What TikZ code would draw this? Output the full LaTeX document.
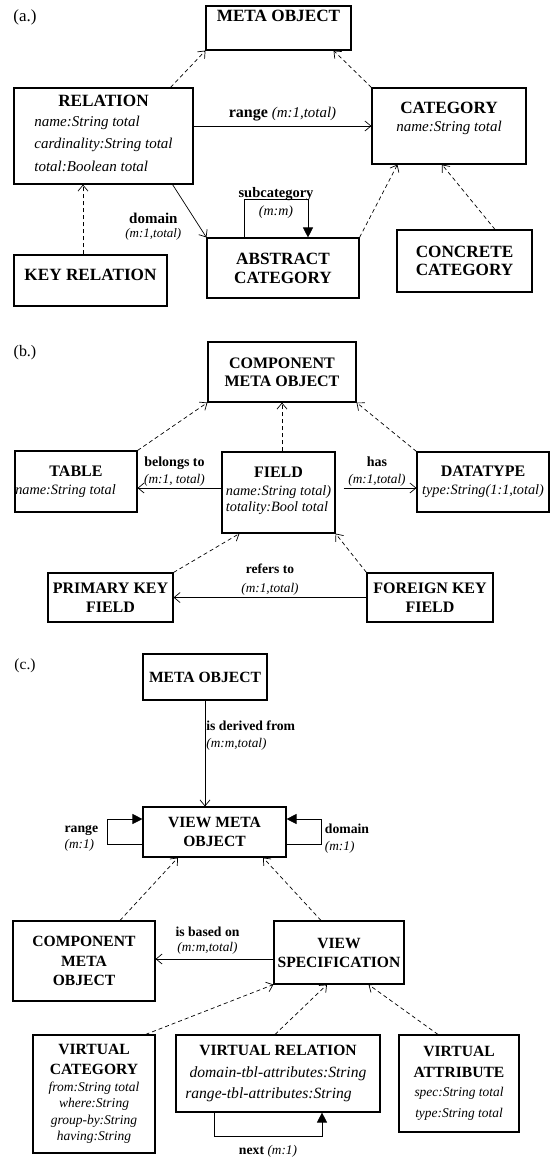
\documentclass[tikz,border=0pt]{standalone}
\usepackage{fontspec}
\setmainfont{Liberation Serif}
\usetikzlibrary{arrows.meta,positioning}

\newcommand{\attr}[2][14.3]{{\fontsize{#1}{17}\selectfont\mdseries\itshape #2}}
\newcommand{\card}[2][13.3]{{\fontsize{#1}{16}\selectfont\mdseries\itshape #2}}

\tikzset{
  box/.style={draw, line width=1.1pt, inner sep=0pt, align=center,
    font=\fontsize{#1}{19}\selectfont\bfseries},
  box/.default=15.6,
  lbl/.style={inner sep=1pt, align=center, font=\fontsize{#1}{17}\selectfont\bfseries},
  lbl/.default=13.7,
  sec/.style={inner sep=0pt, font=\fontsize{#1}{18}\selectfont},
  isa/.style={line width=.7pt, dash pattern=on 4pt off 3pt,
    -{Straight Barb[length=6pt,width=10pt]}},
  assoc/.style={line width=.7pt, -{Straight Barb[length=6pt,width=10pt]}},
  self/.style={line width=.7pt, -{Triangle[length=10pt,width=10pt]}}
}

\begin{document}
\begin{tikzpicture}[x=1pt, y=-1pt]
  \useasboundingbox (0,0) rectangle (558,1157);

  % (a.)
  \node[sec=17] (secA) at (25,17) {(a.)};
  \node[box=17.2, minimum width=145, minimum height=44, text height=11.5pt, text depth=24.3pt] (metaA) at (278.5,28) {META OBJECT};
  \node[box=17.2, minimum width=179, minimum height=96] (rel) at (103.5,136)
    {RELATION\\[1pt]
     \begin{tabular}[t]{@{}l@{}}\attr[15]{name:String total}\\[3.5pt]
       \attr[15]{cardinality:String total}\\[3.5pt]
       \attr[15]{total:Boolean total}\end{tabular}};
  \node[box=17.2, minimum width=154, minimum height=76] (cat) at (449,126)
    {CATEGORY\\[-1pt]\attr[15]{name:String total}\hspace*{17pt}\\[-0.6pt]\mbox{}};
  \node[box=17.2, minimum width=153, minimum height=51, text height=11.5pt, text depth=11.3pt] (keyrel) at (90.5,280.5) {KEY RELATION};
  \node[box=17.2, minimum width=152, minimum height=60] (abscat) at (283,268) {ABSTRACT\\CATEGORY};
  \node[box=17.2, minimum width=135, minimum height=62] (concat) at (464.5,261) {CONCRETE\\[-1pt]CATEGORY};

  \draw[isa] ([xshift=-23pt]rel.north east) -- (metaA.south west);
  \draw[isa] (cat.north west) -- ([xshift=-18pt]metaA.south east);
  \draw[assoc] ([yshift=10pt]rel.east) -- node[lbl=16, above=4pt] (rangeA) {range \card[14.9]{(m:1,total)}} (cat.west);
  \draw[assoc] ([xshift=-21pt]rel.south east) -- node[lbl=15, pos=.8, left=17pt] (domA) {domain\\[-3pt]\card[13]{(m:1,total)}} (abscat.north west);
  \draw[isa] ([xshift=-7.5pt]keyrel.north) -- ([xshift=-7.5pt]keyrel.north |- rel.south);
  \draw[self] ([xshift=-39pt]abscat.north) -- ++(0,-38)
    -| node[lbl=14.5, pos=.25, anchor=base, yshift=2pt] (subcat) {subcategory}
       node[pos=.25, below=6pt, inner sep=0pt] (subcard) {\card[14]{(m:m)}}
    ([xshift=25pt]abscat.north);
  \draw[isa] (abscat.north east) -- ([xshift=26pt]cat.south west);
  \draw[isa] ([xshift=30.5pt]concat.north) -- ([xshift=-7pt]cat.south);

  % (b.)
  \node[sec=16] (secB) at (25,353) {(b.)};
  \node[box=16, minimum width=148, minimum height=60] (comp) at (282,372) {COMPONENT\\[-1pt]META OBJECT};
  \node[box=16, minimum width=122, minimum height=61] (table) at (76,481.5)
    {TABLE\\[-1pt]\attr{name:String total}\hspace*{21pt}};
  \node[box=16, minimum width=113, minimum height=81] (field) at (278.5,492.5)
    {FIELD\\[-1pt]\begin{tabular}[t]{@{}l@{}}\attr{name:String total)}\\[-3pt]
       \attr{totality:Bool total}\end{tabular}};
  \node[box=16, minimum width=132, minimum height=60] (dtype) at (483,482)
    {DATATYPE\\[-1pt]\attr{type:String(1:1,total)}};
  \node[box=16, minimum width=125, minimum height=49] (pkey) at (110.5,597.5) {PRIMARY KEY\\FIELD};
  \node[box=16, minimum width=126, minimum height=49] (fkey) at (430,597.5) {FOREIGN KEY\\FIELD};

  \draw[isa] (table.north east) -- (comp.south west);
  \draw[isa] (field.north -| comp.south) -- (comp.south);
  \draw[isa] (dtype.north west) -- (comp.south east);
  \draw[assoc] ([yshift=4.5pt]field.west) -- node[lbl=14, above=0pt, xshift=-5pt] (belongs) {belongs to\\\card{(m:1, total)}} ([yshift=4.5pt]field.west -| table.east);
  \draw[assoc] ([xshift=8pt,yshift=4.5pt]field.east) -- node[lbl=14, above=0pt, xshift=-3pt] (has) {has\\\card{(m:1,total)}} ([yshift=4.5pt]field.east -| dtype.west);
  \draw[isa] (pkey.north east) -- ([xshift=18pt]field.south west);
  \draw[isa] (fkey.north west) -- (field.south east);
  \draw[assoc] (fkey.west) -- node[lbl=13.5, above=1pt] (refers) {refers to\\[1.5pt]\card{(m:1,total)}} (pkey.east);

  % (c.)
  \node[sec=15.5] (secC) at (25,666) {(c.)};
  \node[box, minimum width=124, minimum height=46] (metaC) at (205,677) {META OBJECT};
  \node[box, minimum width=143, minimum height=50] (vmo) at (214.5,832) {VIEW META\\OBJECT};
  \node[box, minimum width=142, minimum height=80] (compC) at (84,961) {COMPONENT\\[1pt]META\\OBJECT};
  \node[box, minimum width=130, minimum height=63] (vspec) at (339,952.5) {VIEW\\SPECIFICATION};
  \node[box, minimum width=122, minimum height=118] (vcat) at (94,1094)
    {VIRTUAL\\[1pt]CATEGORY\\[-1.7pt]\attr[13.5]{from:String total}\\[-3pt]
     \attr[13.5]{where:String}\\[-2pt]\attr[13.5]{group-by:String}\\[-3pt]
     \attr[13.5]{having:String}};
  \node[box, minimum width=204, minimum height=77] (vrel) at (278,1073.5)
    {VIRTUAL RELATION\\[2.3pt]\attr[15.6]{domain-tbl-attributes:String}\hspace*{19pt}\\[2pt]
     \attr[15.6]{range-tbl-attributes:String}\hspace*{19pt}};
  \node[box, minimum width=120, minimum height=97] (vattr) at (459,1083.5)
    {VIRTUAL\\[2pt]ATTRIBUTE\\\attr[13.4]{spec:String total}\\[2pt]\attr[13.4]{type:String total}};

  \draw[assoc] (metaC.south) -- node[lbl, pos=.33, right=0pt, align=left] (derived) {is derived from\\\card{(m:m,total)}} (metaC.south |- vmo.north);
  \draw[self] ([yshift=-12pt]vmo.west) -- ++(-35,0)
    |- node[lbl, pos=.25, left=8pt, yshift=-7pt, align=left] (rangeC) {range\\[-0.5pt]\card{(m:1)}}
    ([yshift=13pt]vmo.west);
  \draw[self] ([yshift=-12pt]vmo.east) -- ++(35,0)
    |- node[lbl, pos=.25, right=2pt, yshift=-7pt, align=left] (domC) {domain\\[-0.5pt]\card{(m:1)}}
    ([yshift=13pt]vmo.east);
  \draw[isa] ([xshift=36pt]compC.north) -- ([xshift=-36.5pt]vmo.south);
  \draw[isa] ([xshift=-18pt]vspec.north) -- ([xshift=48.5pt]vmo.south);
  \draw[assoc] ([yshift=-6.5pt]vspec.west) -- node[lbl, above=3pt, xshift=-7pt] (based) {is based on\\[-1.5pt]\card{(m:m,total)}} ([yshift=-6.5pt]vspec.west -| compC.east);
  \draw[isa] ([xshift=-10pt]vcat.north east) -- (vspec.south west);
  \draw[isa] ([xshift=-3pt]vrel.north) -- ([xshift=-12pt]vspec.south);
  \draw[isa] ([xshift=-21pt]vattr.north) -- ([xshift=-36pt]vspec.south east);
  \draw[self] ([xshift=-64pt]vrel.south) -- ++(0,24)
    -| node[lbl, pos=.25, below=7pt] (next) {next \card{(m:1)}}
    ([xshift=44pt]vrel.south);
\end{tikzpicture}
\end{document}
